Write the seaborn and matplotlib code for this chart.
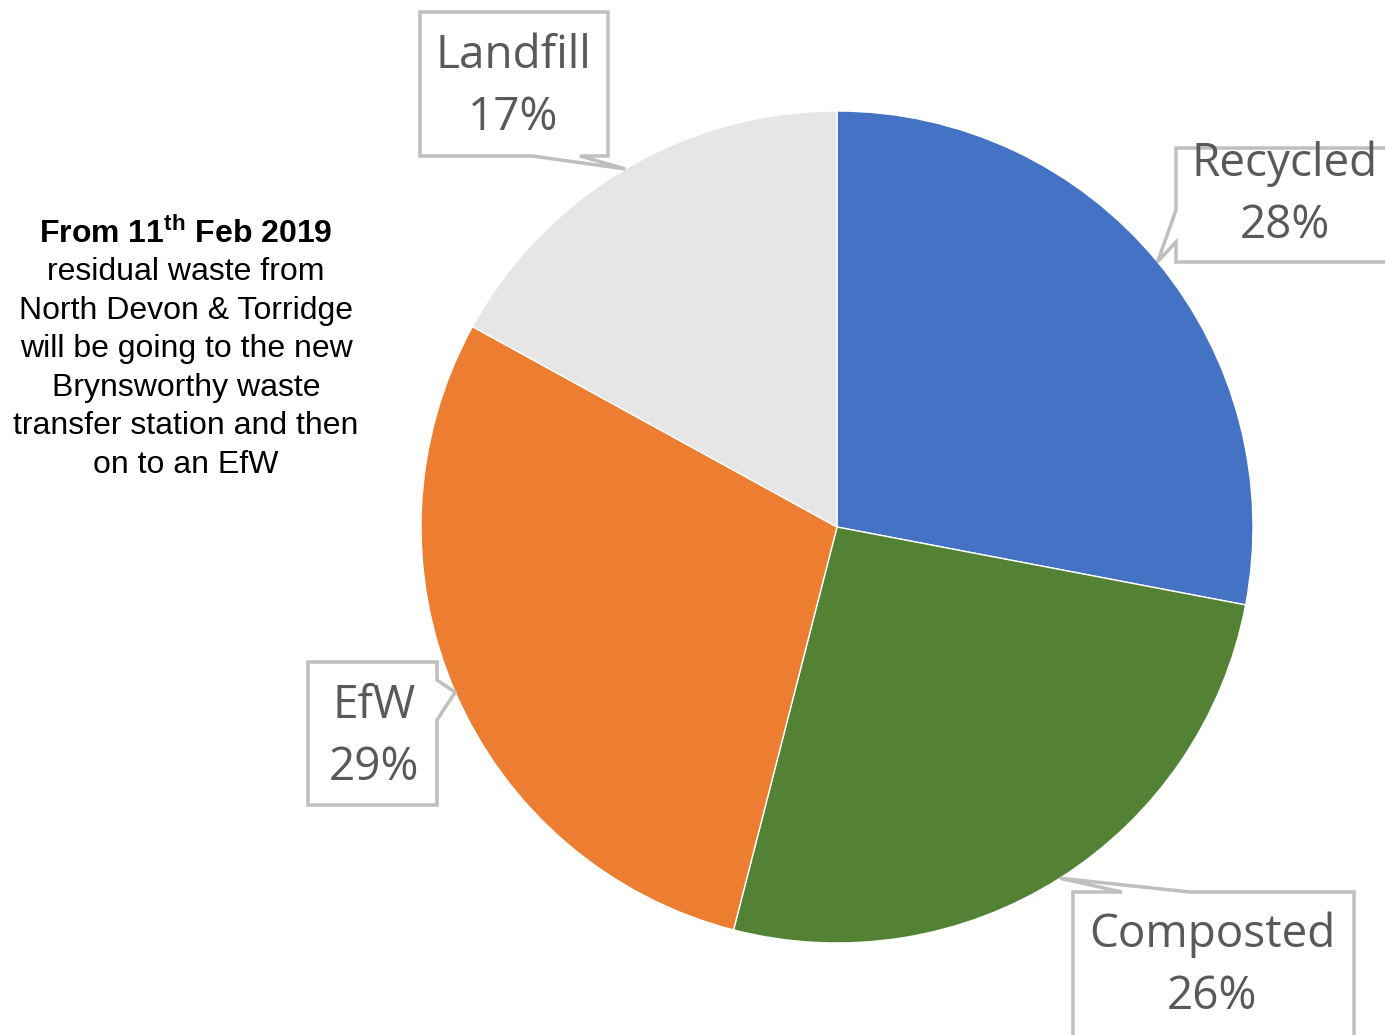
import numpy as np
import matplotlib
matplotlib.use("Agg")
import matplotlib.pyplot as plt
import seaborn as sns
from matplotlib.patches import Polygon

sns.set_theme(style="white")

# data
categories = ["Recycled", "Composted", "EfW", "Landfill"]
shares = [28, 26, 29, 17]
colors = ["#4472C4", "#548235", "#ED7D31", "#E7E6E6"]

note_lines = [
    r"From 11$^{\mathbf{th}}$ Feb 2019",
    "residual waste from",
    "North Devon & Torridge",
    "will be going to the new",
    "Brynsworthy waste",
    "transfer station and then",
    "on to an EfW",
]

plt.rcParams["mathtext.fontset"] = "custom"
plt.rcParams["mathtext.rm"] = "Liberation Sans"
plt.rcParams["mathtext.bf"] = "Liberation Sans:bold"

W, H = 1385, 1035
fig = plt.figure(figsize=(W / 100, H / 100), dpi=100)
ax = fig.add_axes([0, 0, 1, 1])


def py(y):
    # pixel row -> data y
    return H - y


cx, cy, rad = 837, py(527), 416
wedges, _ = ax.pie(shares, colors=colors, startangle=90, counterclock=False,
                   center=(cx, cy), radius=rad, frame=True,
                   wedgeprops=dict(edgecolor="white", linewidth=1))
ax.set_xlim(0, W)
ax.set_ylim(0, H)
ax.axis("off")

# callout boxes: (left, top, right, bottom) in pixels, pointer base on one side
boxes = {
    "Landfill": dict(rect=(420, 12, 608, 156), side="bottom", base=(532, 580), text=(513, 87)),
    "Recycled": dict(rect=(1176, 148, 1400, 262), side="left", base=(210, 242), text=(1285, 195)),
    "EfW": dict(rect=(308, 662, 437, 805), side="right", base=(680, 720), text=(374, 737)),
    "Composted": dict(rect=(1073, 892, 1354, 1050), side="top", base=(1122, 1190), text=(1212, 966)),
}

for w, cat, val in zip(wedges, categories, shares):
    mid = np.deg2rad((w.theta1 + w.theta2) / 2)
    tip = (cx + rad * np.cos(mid), cy + rad * np.sin(mid))
    b = boxes[cat]
    l, t, r, btm = b["rect"]
    t, btm = py(t), py(btm)
    b1, b2 = b["base"]
    if b["side"] == "bottom":
        pts = [(l, t), (r, t), (r, btm), (b2, btm), tip, (b1, btm), (l, btm)]
    elif b["side"] == "top":
        pts = [(l, t), (b1, t), tip, (b2, t), (r, t), (r, btm), (l, btm)]
    elif b["side"] == "left":
        pts = [(l, t), (r, t), (r, btm), (l, btm), (l, py(b2)), tip, (l, py(b1))]
    else:
        pts = [(l, t), (r, t), (r, py(b1)), tip, (r, py(b2)), (r, btm), (l, btm)]
    ax.add_patch(Polygon(pts, closed=True, facecolor="white", edgecolor="#BFBFBF",
                         linewidth=2.5, joinstyle="miter", zorder=3))
    tx, ty = b["text"]
    ax.text(tx, py(ty), f"{cat}\n{val}%", ha="center", va="center", color="#595959",
            fontsize=33, family="Open Sans", linespacing=1.45, zorder=4)

# side note
for i, line in enumerate(note_lines):
    ax.text(186, py(234 + i * 38.5), line, ha="center", va="center", color="black",
            fontsize=23, family="Liberation Sans",
            fontweight="bold" if i == 0 else "normal")

fig.savefig("out.png", dpi=100)
